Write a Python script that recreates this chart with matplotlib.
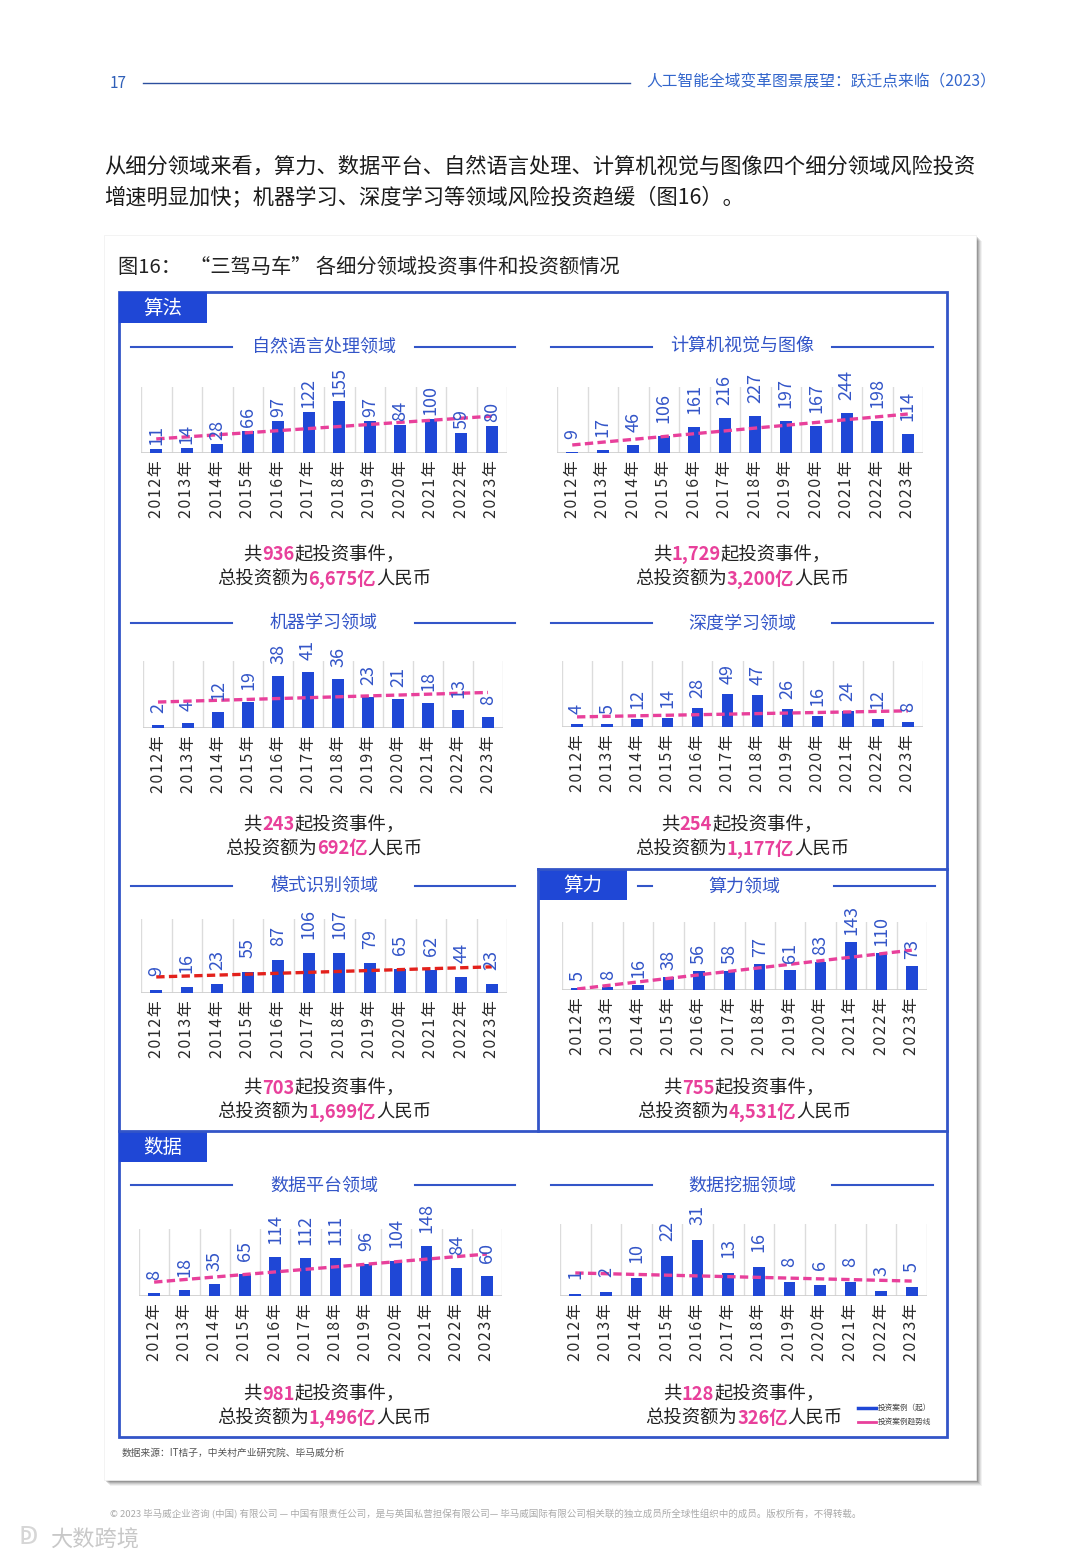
import numpy as np
import matplotlib.pyplot as plt
from matplotlib.patches import Rectangle

plt.rcParams['font.family'] = ['Noto Sans CJK SC', 'DejaVu Sans']

# Data
years = ['2012年', '2013年', '2014年', '2015年', '2016年', '2017年',
         '2018年', '2019年', '2020年', '2021年', '2022年', '2023年']

titles = ['自然语言处理领域', '计算机视觉与图像', '机器学习领域', '深度学习领域',
          '模式识别领域', '算力领域', '数据平台领域', '数据挖掘领域']

nlp = [11, 14, 28, 66, 97, 122, 155, 97, 84, 100, 59, 80]
cv = [9, 17, 46, 106, 161, 216, 227, 197, 167, 244, 198, 114]
ml = [2, 4, 12, 19, 38, 41, 36, 23, 21, 18, 13, 8]
dl = [4, 5, 12, 14, 28, 49, 47, 26, 16, 24, 12, 8]
pr = [9, 16, 23, 55, 87, 106, 107, 79, 65, 62, 44, 23]
compute = [5, 8, 16, 38, 56, 58, 77, 61, 83, 143, 110, 73]
dplat = [8, 18, 35, 65, 114, 112, 111, 96, 104, 148, 84, 60]
dmine = [1, 2, 10, 22, 31, 13, 16, 8, 6, 8, 3, 5]
series = [nlp, cv, ml, dl, pr, compute, dplat, dmine]

# trend line end points (value at 2012, value at 2023)
trend_start = [42, 49, 19, 15, 43, 3, 41, 12.8]
trend_end = [110, 238, 26, 24, 70, 119, 124, 8.3]

events = ['936', '1,729', '243', '254', '703', '755', '981', '128']
amounts = ['6,675', '3,200', '692', '1,177', '1,699', '4,531', '1,496', '326']

# Layout (pixels)
W, H = 1080, 1560
BLUE = '#1f47d6'
LBLUE = '#3355c8'
PINK = '#e8409b'

# bar axes boxes: x0, x1, ytop, ybase
boxes = [(141, 507, 387, 453), (557, 923, 387, 453),
         (143, 503, 661, 728), (562, 923, 661, 727),
         (141, 507, 919, 993), (562, 927, 922, 990),
         (139, 502, 1229, 1296), (560, 927, 1224, 1296)]
ymax = [197, 403, 49, 98, 198, 203, 198, 40]
label_pad = [4, 13, 12, 10, 14, 7, 13, 15]
title_y = [347, 347, 623, 623, 886, 886, 1185, 1185]
title_x = [324, 742, 324, 742, 324, 744, 324, 742]
sum_y = [555, 555, 825, 825, 1088, 1088, 1394, 1394]
sum_x = [324, 742, 324, 742, 324, 744, 324, 744]
lines_lr = [((131, 232), (415, 515)), ((551, 652), (832, 933))] * 2 + \
           [((131, 232), (415, 515)), ((638, 652), (834, 935))] + \
           [((131, 232), (415, 515)), ((551, 652), (832, 933))]
trend_colors = [PINK, PINK, PINK, PINK, '#e3211c', PINK, PINK, PINK]

fig = plt.figure(figsize=(W / 100, H / 100), dpi=100)
ax = fig.add_axes([0, 0, 1, 1])
ax.set_xlim(0, W)
ax.set_ylim(H, 0)
ax.axis('off')

# Header
ax.text(118, 83, '17', color='#2f5fb8', fontsize=11, va='center', ha='center')
ax.plot([143, 630], [83, 83], color='#2c4f9e', lw=1)
ax.text(996, 82, '人工智能全域变革图景展望：跃迁点来临（2023）', color='#3366cc',
        fontsize=11.3, va='center', ha='right')

# Paragraph
ax.text(104, 167, '从细分领域来看，算力、数据平台、自然语言处理、计算机视觉与图像四个细分领域风险投资',
        color='#1a1a1a', fontsize=15.3, va='center')
ax.text(104, 197, '增速明显加快；机器学习、深度学习等领域风险投资趋缓（图16）。',
        color='#1a1a1a', fontsize=15.3, va='center')

# Card with shadow
for i, a in enumerate([0.05, 0.07, 0.09, 0.12, 0.15]):
    off = 6 - i
    ax.add_patch(Rectangle((104 + off, 235 + off), 872, 1245, facecolor='black',
                           alpha=a, edgecolor='none'))
ax.add_patch(Rectangle((104, 235), 872, 1245, facecolor='white', edgecolor='#eeeeee', lw=0.5))

ax.text(118, 267, '图16：  “三驾马车” 各细分领域投资事件和投资额情况', color='#222222',
        fontsize=14.6, va='center')

# Frames
ax.add_patch(Rectangle((119, 292), 828, 1145, facecolor='none', edgecolor=LBLUE, lw=2))
ax.plot([119, 947], [1131, 1131], color=LBLUE, lw=2)
ax.plot([538, 538], [869, 1131], color=LBLUE, lw=2)
ax.plot([538, 947], [869, 869], color=LBLUE, lw=2)
for (x0, y0, x1, y1, lab) in [(119, 292, 207, 323, '算法'), (119, 1131, 207, 1162, '数据'),
                              (538, 869, 627, 900, '算力')]:
    ax.add_patch(Rectangle((x0, y0), x1 - x0, y1 - y0, facecolor=BLUE, edgecolor='none'))
    ax.text((x0 + x1) / 2, (y0 + y1) / 2 + 1, lab, color='white', fontsize=14,
            ha='center', va='center')

renderer = fig.canvas.get_renderer()


def rich_line(xc, y, parts, fs):
    texts = [ax.text(0, y, s, color=c, fontsize=fs, fontweight=w, va='center', ha='left')
             for s, c, w in parts]
    widths = [t.get_window_extent(renderer).width for t in texts]
    x = xc - sum(widths) / 2
    for t, w in zip(texts, widths):
        t.set_x(x)
        x += w


for k in range(8):
    # panel title with side lines
    ax.text(title_x[k], title_y[k], titles[k], color=LBLUE, fontsize=13, ha='center', va='center')
    for (a, b) in lines_lr[k]:
        ax.plot([a, b], [title_y[k], title_y[k]], color=LBLUE, lw=1.5)

    # summary text
    rich_line(sum_x[k], sum_y[k], [('共', '#222222', 'normal'), (events[k], PINK, 'bold'),
                                   ('起投资事件，', '#222222', 'normal')], 13.2)
    rich_line(sum_x[k], sum_y[k] + 24, [('总投资额为', '#222222', 'normal'),
                                        (amounts[k] + '亿', PINK, 'bold'),
                                        ('人民币', '#222222', 'normal')], 13.2)

    # bar chart
    x0, x1, yt, yb = boxes[k]
    bax = fig.add_axes([x0 / W, 1 - yb / H, (x1 - x0) / W, (yb - yt) / H])
    bax.set_facecolor('none')
    xs = np.arange(len(years))
    vals = series[k]
    for b in np.arange(-0.5, 12, 1.0):
        bax.axvline(b, color='#dcdcdc', lw=1, zorder=0)
    bax.bar(xs, vals, width=0.38, color=BLUE, zorder=2)
    bax.axhline(0, color='#cfcfcf', lw=2, zorder=1)
    bax.plot([0, 11], [trend_start[k], trend_end[k]], color=trend_colors[k], lw=2.4,
             linestyle=(0, (2.5, 1.3)), zorder=3)
    for xi, v in zip(xs, vals):
        bax.annotate(str(v), (xi, v), xytext=(0, label_pad[k] * 0.72), textcoords='offset points',
                     rotation=90, ha='center', va='bottom', color=LBLUE, fontsize=13,
                     annotation_clip=False, zorder=4)
    bax.set_xlim(-0.5, 11.5)
    bax.set_ylim(0, ymax[k])
    bax.set_xticks(xs)
    bax.set_xticklabels(['\u200a'.join(y) for y in years], rotation=90, fontsize=11.5,
                        color='#2a2a2a')
    bax.tick_params(axis='x', length=0, pad=5)
    bax.set_yticks([])
    for s in bax.spines.values():
        s.set_visible(False)

# Legend
ax.plot([858, 876], [1408, 1408], color=BLUE, lw=2.5)
ax.text(878, 1408, '投资案例（起）', fontsize=5.5, color='#444444', va='center')
ax.plot([858, 876], [1422, 1422], color=PINK, lw=2)
ax.text(878, 1422, '投资案例趋势线', fontsize=5.5, color='#444444', va='center')

# Source and footer
ax.text(122, 1453, '数据来源：IT桔子，中关村产业研究院、毕马威分析', fontsize=7, color='#555555',
        va='center')
ax.text(110, 1514, '© 2023 毕马威企业咨询 (中国) 有限公司 — 中国有限责任公司，是与英国私营担保有限公司— '
        '毕马威国际有限公司相关联的独立成员所全球性组织中的成员。版权所有，不得转载。',
        fontsize=6.8, color='#aaaaaa', va='center')
ax.text(50, 1540, '大数跨境', fontsize=16, color='#bbbbbb', va='center', alpha=0.8)
ax.text(28, 1537, 'ↁ', fontsize=18, color='#cccccc', va='center', ha='center', alpha=0.8)

fig.savefig('out.png', dpi=100)
